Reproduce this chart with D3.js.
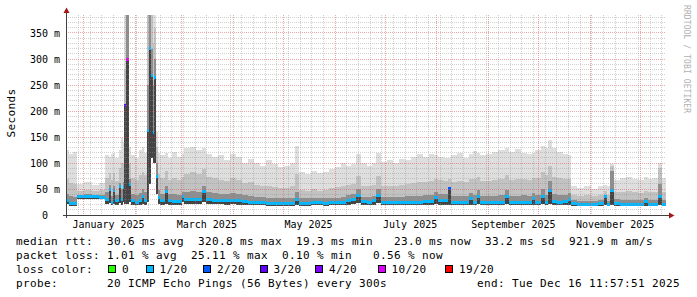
<!DOCTYPE html>
<html lang="en">
<head>
<meta charset="utf-8">
<title>SmokePing - last 360 days</title>
<script src="https://cdn.jsdelivr.net/npm/d3@7"></script>
<style>
  body { margin: 0; background: #fff; }
  svg { display: block; }
  text { font-family: "DejaVu Sans Mono", monospace; white-space: pre; }
</style>
</head>
<body>
<script>
// segment start times (12h steps), ping times in ms, lost pings out of 20
var dates = [
  "2024-12-21 12","2024-12-23 12","2024-12-25 12","2024-12-28 00","2025-01-01 12","2025-01-06 00","2025-01-10 12","2025-01-14 00",
  "2025-01-16 12","2025-01-17 12","2025-01-18 12","2025-01-20 00","2025-01-22 12","2025-01-23 12","2025-01-24 12","2025-01-25 12",
  "2025-01-26 12","2025-01-28 00","2025-01-29 12","2025-02-01 00","2025-02-03 12","2025-02-05 00","2025-02-06 12","2025-02-08 00",
  "2025-02-09 12","2025-02-10 12","2025-02-11 12","2025-02-12 12","2025-02-13 12","2025-02-14 12","2025-02-16 00","2025-02-19 00",
  "2025-02-20 12","2025-02-23 00","2025-02-26 00","2025-03-01 00","2025-03-02 12","2025-03-06 00","2025-03-09 12","2025-03-13 00",
  "2025-03-15 12","2025-03-19 00","2025-03-22 12","2025-03-26 12","2025-03-30 00","2025-04-02 12","2025-04-06 00","2025-04-09 12",
  "2025-04-13 12","2025-04-17 00","2025-04-20 12","2025-04-24 00","2025-04-27 12","2025-05-01 12","2025-05-05 00","2025-05-08 00",
  "2025-05-10 12","2025-05-14 00","2025-05-17 12","2025-05-21 00","2025-05-24 12","2025-05-28 12","2025-06-01 00","2025-06-04 12",
  "2025-06-07 12","2025-06-10 12","2025-06-13 12","2025-06-16 12","2025-06-20 00","2025-06-23 00","2025-06-25 12","2025-06-28 12",
  "2025-07-02 00","2025-07-05 12","2025-07-09 12","2025-07-13 00","2025-07-16 12","2025-07-20 00","2025-07-23 12","2025-07-27 12",
  "2025-07-30 12","2025-08-01 12","2025-08-05 12","2025-08-07 12","2025-08-09 12","2025-08-13 00","2025-08-16 12","2025-08-20 12",
  "2025-08-22 12","2025-08-25 00","2025-08-27 00","2025-08-30 12","2025-09-03 00","2025-09-06 12","2025-09-11 00","2025-09-13 12",
  "2025-09-17 00","2025-09-20 12","2025-09-24 00","2025-09-27 00","2025-09-29 00","2025-10-02 12","2025-10-05 00","2025-10-06 12",
  "2025-10-09 00","2025-10-12 00","2025-10-15 12","2025-10-18 12","2025-10-20 12","2025-10-24 00","2025-10-28 12","2025-11-01 12",
  "2025-11-05 12","2025-11-09 12","2025-11-11 00","2025-11-13 00","2025-11-15 12","2025-11-19 00","2025-11-22 12","2025-11-26 00",
  "2025-11-29 12","2025-12-03 12","2025-12-05 12","2025-12-08 12","2025-12-11 12","2025-12-14 00"
];
var pingMed = [
  27,22,22,35,35,35,34,30, 50,25,48,27,55,30,52,210, 300,58,27,25,28,36,28,162, 320,269,158,265,74,33,27,45,
  27,26,26,35,29,29,30,45, 30,28,28,27,28,27,26,25, 24,24,23,23,23,22,23,29, 23,23,24,24,23,24,24,25,
  28,30,37,26,25,27,37,25, 24,25,24,25,25,25,26,26, 33,27,28,51,25,25,25,31, 25,36,25,24,25,25,35,24,
  24,25,24,31,25,35,25,48, 26,25,26,29,23,21,21,21, 22,35,21,48,22,21,21,21, 21,26,21,21,35,21
];
var pingMin = [
  21,18,18,31,31,31,30,22, 24,20,22,20,24,20,25,22, 22,25,20,19,20,22,20,25, 60,110,100,100,40,22,20,22,
  20,20,20,25,22,22,22,25, 22,21,21,20,21,20,20,19, 19,19,18,18,18,18,18,20, 18,18,19,19,18,19,19,19,
  20,21,24,19,19,19,24,19, 19,19,19,19,19,19,19,19, 21,19,19,20,19,19,19,20, 19,21,19,19,19,19,21,19,
  19,19,19,20,19,21,19,22, 19,19,19,20,18,17,17,17, 17,20,17,20,17,17,17,17, 17,18,17,17,19,17
];
var pingCore = [
  40,36,34,39,40,39,39,44, 58,36,56,38,62,50,64,210, 385,70,40,38,42,50,44,250, 385,320,250,300,100,48,40,56,
  40,40,38,44,44,46,44,56, 44,42,40,40,42,40,38,37, 35,35,33,33,33,32,33,44, 32,32,33,32,32,33,33,35,
  38,40,50,35,35,37,50,35, 35,35,35,37,37,37,38,39, 45,40,40,52,37,37,37,43, 38,48,37,36,37,38,48,36,
  36,38,36,43,38,50,38,66, 40,38,38,42,29,27,27,27, 28,38,27,85,30,29,29,29, 29,33,29,29,60,29
];
var pingMid = [
  70,62,60,46,48,46,48,72, 80,68,80,66,90,100,100,280, 385,100,72,68,76,82,76,385, 385,385,330,360,130,78,72,84,
  68,72,68,74,78,82,78,88, 74,72,68,66,72,68,62,64, 58,56,56,54,52,52,55,78, 48,46,50,47,49,51,53,56,
  58,60,75,56,55,58,75,56, 56,56,58,60,62,64,64,66, 70,68,66,70,64,66,64,70, 70,74,66,66,68,70,76,68,
  70,70,68,72,72,82,76,95, 74,72,70,70,38,36,38,36, 38,46,38,94,44,45,47,44, 43,47,44,45,90,45
];
var pingMax = [
  125,118,122,60,63,58,62,115, 112,118,120,110,125,148,140,385, 385,130,115,110,125,130,120,385, 385,385,385,385,160,120,115,120,
  110,122,112,118,128,131,125,129, 118,112,115,105,118,112,100,108, 100,95,105,98,92,95,100,133, 82,78,85,80,83,88,92,100,
  95,98,118,100,95,100,119,102, 105,100,108,105,112,118,112,118, 115,112,110,110,115,120,110,118, 124,120,115,118,122,125,128,122,
  126,120,118,120,125,132,128,144, 128,122,118,115,55,52,56,50, 55,58,56,98,68,72,74,70, 68,74,70,72,100,71
];
var lossCount = [
  1,1,1,1,1,1,1,1, 1,1,1,1,1,1,1,3, 10,1,1,1,1,1,1,1, 1,1,1,1,1,1,1,1,
  1,1,1,1,1,1,1,1, 1,1,1,1,1,1,1,1, 1,1,1,1,1,1,1,1, 1,1,1,1,1,1,1,1,
  1,1,1,1,1,1,1,1, 1,1,1,1,1,1,1,1, 1,1,1,2,1,1,1,1, 1,1,1,1,1,1,1,1,
  1,1,1,1,1,1,1,1, 1,1,1,1,1,1,1,1, 1,1,1,1,1,1,1,1, 1,1,1,1,1,1
];

var lossThresholds = [0, 1, 2, 3, 4, 10, 19];
var lossLabels = ["0", "1/20", "2/20", "3/20", "4/20", "10/20", "19/20"];
var lossColors = ["#26ff00", "#00b8ff", "#0059ff", "#5e00ff", "#7e00ff", "#dd00ff", "#ff0000"];

var yTicks = [0, 50, 100, 150, 200, 250, 300, 350];
var xLabelMonths = ["2025-01", "2025-03", "2025-05", "2025-07", "2025-09", "2025-11"];

var rttStats = ["30.6 ms avg", "320.8 ms max", "19.3 ms min", "23.0 ms now", "33.2 ms sd", "921.9 m am/s"];
var lossStats = ["1.01 % avg", "25.11 % max", "0.10 % min", "0.56 % now"];
var probeText = "20 ICMP Echo Pings (56 Bytes) every 300s";
var endText = "end: Tue Dec 16 11:57:51 2025";

var W = 697, H = 297;
var plotL = 66, plotR = 666, plotT = 15, plotB = 215;
var end = new Date(2025, 11, 16, 11, 57, 51);
var start = d3.timeDay.offset(end, -360);

var parse = d3.timeParse("%Y-%m-%d %H");
var rows = dates.map(function(d, i) {
  return { t: parse(d), med: pingMed[i], lo: pingMin[i], core: pingCore[i], mid: pingMid[i], max: pingMax[i], loss: lossCount[i] };
});
rows.forEach(function(r, i) { r.t1 = i < rows.length - 1 ? rows[i + 1].t : end; });
var stepRows = rows.concat([Object.assign({}, rows[rows.length - 1], { t: end })]);

var x = d3.scaleTime().domain([start, end]).range([plotL, plotR]);
var y = d3.scaleLinear().domain([0, 200 / 0.52]).range([plotB, plotT]).clamp(true);
function px(v) { return Math.floor(v) + 0.5; }
function lossColor(n) {
  var c = lossColors[0];
  lossThresholds.forEach(function(t, i) { if (n >= t) c = lossColors[i]; });
  return c;
}

var svg = d3.select("body").append("svg").attr("width", W).attr("height", H);
svg.append("rect").attr("width", W).attr("height", H).attr("fill", "#fff");

svg.append("clipPath").attr("id", "plotclip")
  .append("rect").attr("x", plotL).attr("y", plotT).attr("width", plotR - plotL).attr("height", plotB - plotT);

var plot = svg.append("g").attr("clip-path", "url(#plotclip)");

// smoke: outer (light) to inner (dark)
var bands = [["max", "#dedede"], ["mid", "#c2c2c2"], ["core", "#8e8e8e"], ["med", "#444444"]];
bands.forEach(function(b) {
  plot.append("path")
    .datum(stepRows)
    .attr("fill", b[1])
    .attr("shape-rendering", "crispEdges")
    .attr("d", d3.area().curve(d3.curveStepAfter)
      .x(function(d) { return x(d.t); })
      .y0(function(d) { return y(d.lo); })
      .y1(function(d) { return y(d[b[0]]); }));
});

// grid (drawn over the smoke, like rrdtool)
var grid = svg.append("g").attr("shape-rendering", "crispEdges").attr("stroke-width", 1).attr("stroke-dasharray", "1,1");
var minorY = d3.range(10, 385, 10).filter(function(v) { return v % 50 !== 0; });
grid.selectAll(".hmin").data(minorY).enter().append("line")
  .attr("x1", plotL).attr("x2", plotR)
  .attr("y1", function(d) { return px(y(d)); }).attr("y2", function(d) { return px(y(d)); })
  .attr("stroke", "rgba(143,143,143,0.42)");
var months = d3.timeMonth.range(start, end);
var weeks = d3.timeSunday.range(start, end).filter(function(w) { return w.getDate() !== 1; });
grid.selectAll(".vmin").data(weeks).enter().append("line")
  .attr("x1", function(d) { return px(x(d)); }).attr("x2", function(d) { return px(x(d)); })
  .attr("y1", plotT).attr("y2", plotB)
  .attr("stroke", "rgba(143,143,143,0.42)");
grid.selectAll(".hmaj").data(yTicks.slice(1)).enter().append("line")
  .attr("x1", plotL).attr("x2", plotR)
  .attr("y1", function(d) { return px(y(d)); }).attr("y2", function(d) { return px(y(d)); })
  .attr("stroke", "rgba(222,80,80,0.5)");
grid.selectAll(".vmaj").data(months).enter().append("line")
  .attr("x1", function(d) { return px(x(d)); }).attr("x2", function(d) { return px(x(d)); })
  .attr("y1", plotT).attr("y2", plotB)
  .attr("stroke", "rgba(222,80,80,0.5)");

// median band coloured by loss
plot.selectAll(".med").data(rows).enter().append("rect")
  .attr("shape-rendering", "crispEdges")
  .attr("x", function(d) { return x(d.t); })
  .attr("width", function(d) { return x(d.t1) - x(d.t); })
  .attr("y", function(d) { return y(d.med) - 1.5; })
  .attr("height", 3)
  .attr("fill", function(d) { return lossColor(d.loss); });

// axes
var axis = svg.append("g").attr("shape-rendering", "crispEdges");
axis.append("line").attr("x1", plotL - 3).attr("x2", plotR + 4).attr("y1", plotB + 0.5).attr("y2", plotB + 0.5).attr("stroke", "#404040");
axis.append("line").attr("x1", plotL + 0.5).attr("x2", plotL + 0.5).attr("y1", plotB + 3).attr("y2", 12).attr("stroke", "#404040");
svg.append("path").attr("d", "M63.5,13 L69.5,13 L66.5,7.5 Z").attr("fill", "#a01818");
svg.append("path").attr("d", "M669,212.5 L669,218.5 L674.5,215.5 Z").attr("fill", "#a01818");

// y labels
var yl = svg.append("g").attr("font-size", "10px").attr("fill", "#000");
yl.selectAll(".yn").data(yTicks).enter().append("text")
  .attr("x", 48).attr("y", function(d) { return y(d) + 3.7; })
  .attr("text-anchor", "end")
  .text(function(d) { return d3.format("d")(d); });
yl.selectAll(".yu").data(yTicks.slice(1)).enter().append("text")
  .attr("x", 54).attr("y", function(d) { return y(d) + 3.7; })
  .text("m");

// x labels
var monthParse = d3.timeParse("%Y-%m");
svg.append("g").attr("font-size", "10px").selectAll("text").data(xLabelMonths).enter().append("text")
  .attr("x", function(d) { return x(d3.timeDay.offset(monthParse(d), 15)); })
  .attr("y", 227.5)
  .attr("text-anchor", "middle")
  .text(function(d) { return d3.timeFormat("%B %Y")(monthParse(d)); });

// axis title and watermark
svg.append("text").attr("transform", "translate(15,113) rotate(-90)")
  .attr("text-anchor", "middle").attr("font-size", "11px").attr("letter-spacing", "0.38px")
  .text("Seconds");
svg.append("text").attr("transform", "translate(684,5) rotate(90)")
  .attr("font-size", "8px").attr("fill", "#b0b0b0").attr("letter-spacing", "0.1px")
  .text("RRDTOOL / TOBI OETIKER");

// legend
var lg = svg.append("g").attr("font-size", "11px").attr("letter-spacing", "0.38px");
var lx0 = 16, cw = 7;
lg.append("text").attr("x", lx0).attr("y", 245).text("median rtt:");
var rttCols = [13, 26, 40, 54, 67, 79];
rttStats.forEach(function(s, i) { lg.append("text").attr("x", lx0 + rttCols[i] * cw).attr("y", 245).text(s); });
lg.append("text").attr("x", lx0).attr("y", 259).text("packet loss:");
var lossCols = [13, 25, 38, 51];
lossStats.forEach(function(s, i) { lg.append("text").attr("x", lx0 + lossCols[i] * cw).attr("y", 259).text(s); });
lg.append("text").attr("x", lx0).attr("y", 273).text("loss color:");
var boxX = [108.5, 146, 203.5, 260, 315.5, 378, 445.5];
lossLabels.forEach(function(l, i) {
  lg.append("rect").attr("x", boxX[i]).attr("y", 265.5).attr("width", 7).attr("height", 7)
    .attr("fill", lossColors[i]).attr("stroke", "#000").attr("stroke-width", 1).attr("shape-rendering", "crispEdges");
  lg.append("text").attr("x", boxX[i] + 13.5).attr("y", 273).text(l);
});
lg.append("text").attr("x", lx0).attr("y", 287).text("probe:");
lg.append("text").attr("x", lx0 + 13 * cw).attr("y", 287).text(probeText);
lg.append("text").attr("x", 680).attr("y", 287).attr("text-anchor", "end").text(endText);
</script>
</body>
</html>
